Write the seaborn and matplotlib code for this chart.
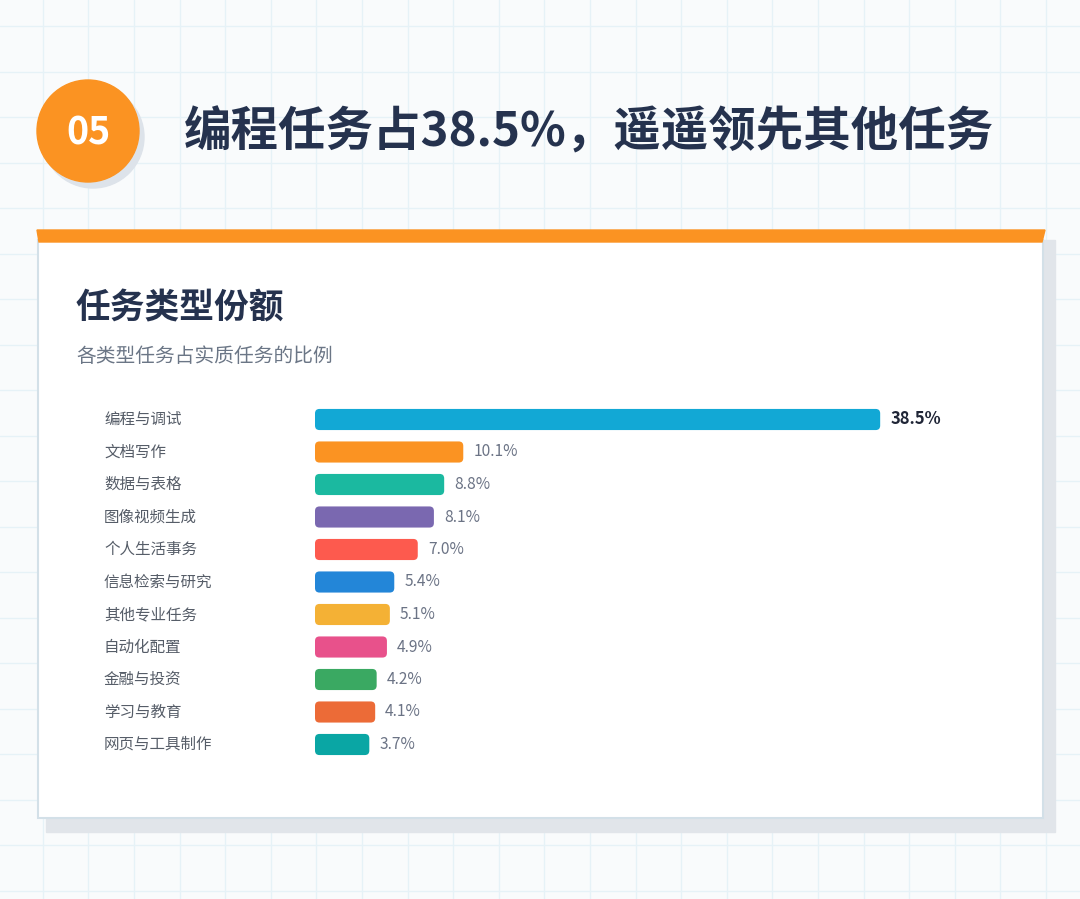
import matplotlib
matplotlib.use("Agg")
import matplotlib.pyplot as plt
import matplotlib.transforms as mtransforms
from matplotlib.patches import FancyBboxPatch, Circle, Rectangle, Polygon
import pandas as pd
import seaborn as sns

# data
categories = ["编程与调试", "文档写作", "数据与表格", "图像视频生成", "个人生活事务",
              "信息检索与研究", "其他专业任务", "自动化配置", "金融与投资", "学习与教育", "网页与工具制作"]
shares = [38.5, 10.1, 8.8, 8.1, 7.0, 5.4, 5.1, 4.9, 4.2, 4.1, 3.7]
bar_colors = ["#12a8d5", "#fb9322", "#1bb9a0", "#7a68b0", "#fd5a4e", "#2386d8",
              "#f4b135", "#e8518b", "#3aa962", "#ec6b37", "#0aa6a4"]
headline = "编程任务占38.5%，遥遥领先其他任务"
badge = "05"
card_title = "任务类型份额"
card_subtitle = "各类型任务占实质任务的比例"

sns.set_theme(style="white")
plt.rcParams["font.family"] = ["Noto Sans CJK SC", "DejaVu Sans"]

W, H = 1080, 899
fig = plt.figure(figsize=(W / 100, H / 100), dpi=100)
fig.patch.set_facecolor("#f9fbfc")

# background layer in pixel coordinates
bg = fig.add_axes([0, 0, 1, 1])
bg.set_xlim(0, W)
bg.set_ylim(H, 0)
bg.axis("off")

gx = 42.7
while gx < W:
    bg.axvline(gx, color="#e6f2f7", lw=1.0, zorder=0)
    gx += 45.6
gy = 26
while gy < H:
    bg.axhline(gy, color="#e6f2f7", lw=1.0, zorder=0)
    gy += 45.5

# badge circle
bg.add_patch(Circle((93, 137), 51, color="#dde3ea", zorder=1))
bg.add_patch(Circle((88, 131), 51, color="#fb9322", zorder=2))
bg.text(89, 133, badge, color="white", fontsize=27, fontweight="heavy",
        ha="center", va="center", zorder=3)
bg.text(184, 133, headline, color="#25324e", fontsize=34.2, fontweight="heavy",
        ha="left", va="center", zorder=3)

# card
bg.add_patch(Rectangle((46, 240), 1009, 592, color="#e1e5ea", zorder=1))
bg.add_patch(Rectangle((38, 240), 1005, 578, facecolor="white",
                       edgecolor="#d3e0e8", lw=1.5, zorder=2))
bg.add_patch(Polygon([(37, 230), (1045, 230), (1042, 242), (39, 242)],
                     closed=True, color="#fb9322", zorder=3))
bg.text(76, 308, card_title, color="#25324e", fontsize=25, fontweight="heavy",
        ha="left", va="center", zorder=3)
bg.text(76, 356, card_subtitle, color="#6b7686", fontsize=14.2,
        ha="left", va="center", zorder=3)

# bar chart axes
x_left, px_per_pct, xmax = 315, 14.68, 45
row_h, first_row = 32.5, 419.5
n = len(categories)
ax_w = xmax * px_per_pct
ax_top = first_row - row_h / 2
ax_h = n * row_h
ax = fig.add_axes([x_left / W, 1 - (ax_top + ax_h) / H, ax_w / W, ax_h / H])
ax.set_facecolor("none")

df = pd.DataFrame({"category": categories, "share": shares})
sns.barplot(data=df, x="share", y="category", hue="category", palette=bar_colors,
            dodge=False, legend=False, width=0.65, saturation=1, ax=ax)
ax.set_xlim(0, xmax)
ax.set_ylim(n - 0.5, -0.5)
ax.axis("off")

# swap plain bars for rounded ones
rx = 4.5 / px_per_pct
ry = 4.5 / row_h
for p in list(ax.patches):
    x0, y0 = p.get_x(), p.get_y()
    w, h = p.get_width(), p.get_height()
    fc = p.get_facecolor()
    p.remove()
    ax.add_patch(FancyBboxPatch((x0, y0), w, h,
                                boxstyle=f"round,pad=0,rounding_size={rx}",
                                mutation_aspect=ry / rx,
                                facecolor=fc, edgecolor="none"))

lab_tr = mtransforms.blended_transform_factory(bg.transData, ax.transData)
for i, (cat, val) in enumerate(zip(categories, shares)):
    ax.text(104, i, cat, transform=lab_tr, ha="left", va="center",
            fontsize=11.2, color="#565d68")
    top = i == 0
    ax.text(val + 10 / px_per_pct, i, f"{val:.1f}%", ha="left", va="center",
            fontsize=12 if top else 11.2, fontweight="bold" if top else "normal",
            color="#1f2536" if top else "#6b7385")

fig.savefig("out.png", dpi=100, facecolor=fig.get_facecolor())
